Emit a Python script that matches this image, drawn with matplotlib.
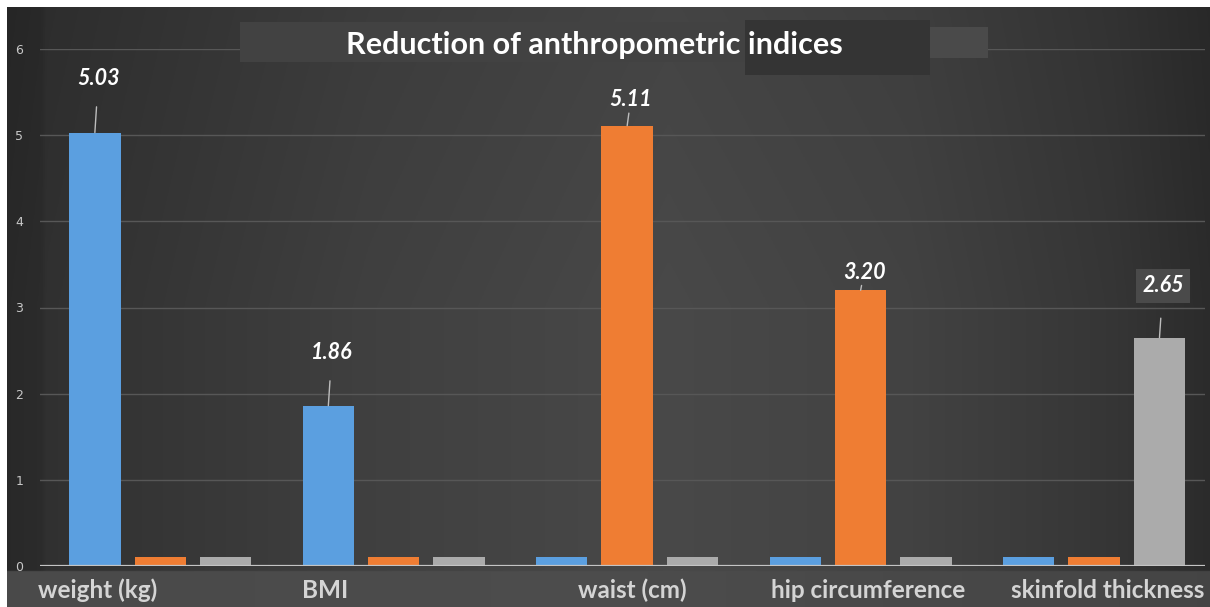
import matplotlib
matplotlib.use("Agg")

import matplotlib.pyplot as plt
import numpy as np
from matplotlib.patches import Rectangle

# anthropometric reductions, one main bar per index plus two baseline stubs
categories = ["weight (kg)", "BMI", "waist (cm)", "hip circumference", "skinfold thickness"]
blue_vals = [5.03, 1.86, 0.1, 0.1, 0.1]
orange_vals = [0.1, 0.1, 5.11, 3.20, 0.1]
gray_vals = [0.1, 0.1, 0.1, 0.1, 2.65]
label_texts = ["5.03", "1.86", "5.11", "3.20", "2.65"]
label_series = [0, 0, 1, 1, 2]

W, H = 1210, 607
fig = plt.figure(figsize=(W / 100, H / 100), dpi=100, facecolor="white")

# dark gradient backdrop
bg = fig.add_axes([7 / W, 0, 1 - 7 / W, 1 - 7 / H])
bg.set_axis_off()
nx, ny = 600, 300
xs = np.linspace(0, 1, nx)
prof = np.interp(xs, [0, 0.028, 0.032, 0.3, 0.55, 0.75, 0.92, 1.0],
                 [0.16, 0.17, 0.19, 0.25, 0.285, 0.26, 0.21, 0.17])
ys = np.linspace(0, 1, ny)
vert = np.interp(ys, [0, 0.5, 1.0], [0.94, 1.0, 1.0])
img = vert[:, None] * prof[None, :]
band_rows = ys > (572 - 7) / (H - 7)
band = np.interp(xs, [0, 0.5, 1.0], [0.29, 0.30, 0.27])
img[band_rows] = band[None, :]
bg.imshow(np.dstack([img] * 3), aspect="auto", extent=[0, 1, 0, 1], origin="upper")
bg.set_xlim(0, 1)
bg.set_ylim(0, 1)

ax = fig.add_axes([40 / W, (H - 566) / H, (1205 - 40) / W, (566 - 49) / H])
ax.patch.set_alpha(0)

x = np.arange(len(categories))
off, width = 0.28, 0.22
colors = ["#5b9fe0", "#ef7d33", "#ababab"]
series = [blue_vals, orange_vals, gray_vals]
for i, (vals, c) in enumerate(zip(series, colors)):
    ax.bar(x + (i - 1) * off, vals, width, color=c, zorder=3)

ax.set_xlim(-0.515, 4.475)
ax.set_ylim(0, 6)
ax.set_yticks(range(7))
ax.yaxis.grid(True, color="#575757", lw=1)
ax.axhline(0, color="#c4c4c4", lw=1.6, zorder=4)
ax.set_xticks([])
for s in ax.spines.values():
    s.set_visible(False)
ax.tick_params(axis="y", length=0, pad=12, labelsize=9, labelcolor="#c8c8c8")

# value labels with leader lines
label_y = [5.66, 2.48, 5.41, 3.41, 3.25]
for k, (txt, si, ly) in enumerate(zip(label_texts, label_series, label_y)):
    bx = x[k] + (si - 1) * off
    top = series[si][k]
    box = None
    if k == 4:
        box = dict(boxstyle="square,pad=0.3", fc="#4a4a4a", ec="none")
    ax.annotate(txt, xy=(bx, top), xytext=(bx + 0.015, ly),
                ha="center", va="center", fontsize=15.5, fontweight="bold",
                fontstyle="italic", color="white", family="Lato", bbox=box,
                arrowprops=dict(arrowstyle="-", color="#bdbdbd", lw=1,
                                shrinkA=11, shrinkB=0), zorder=5)

# category captions on the lower band
cat_x = [-0.27, 0.707, 2.02, 3.03, 4.06]
for cx, name in zip(cat_x, categories):
    ax.text(cx, -0.28, name, ha="center", va="center", fontsize=17.5,
            fontweight="bold", color="#d4d4d4", family="Lato", clip_on=False)

# title panel
fig.patches.append(Rectangle((240 / W, 1 - 62 / H), 505 / W, 40 / H,
                             transform=fig.transFigure, fc="#424242", ec="none"))
fig.patches.append(Rectangle((745 / W, 1 - 75 / H), 185 / W, 55 / H,
                             transform=fig.transFigure, fc="#343434", ec="none"))
fig.patches.append(Rectangle((930 / W, 1 - 58 / H), 58 / W, 31 / H,
                             transform=fig.transFigure, fc="#4a4a4a", ec="none"))
fig.text(594 / W, 1 - 45 / H, "Reduction of anthropometric indices", ha="center",
         va="center", fontsize=22, fontweight="bold", color="white", family="Lato")

fig.savefig("out.png", dpi=100, facecolor="white")
